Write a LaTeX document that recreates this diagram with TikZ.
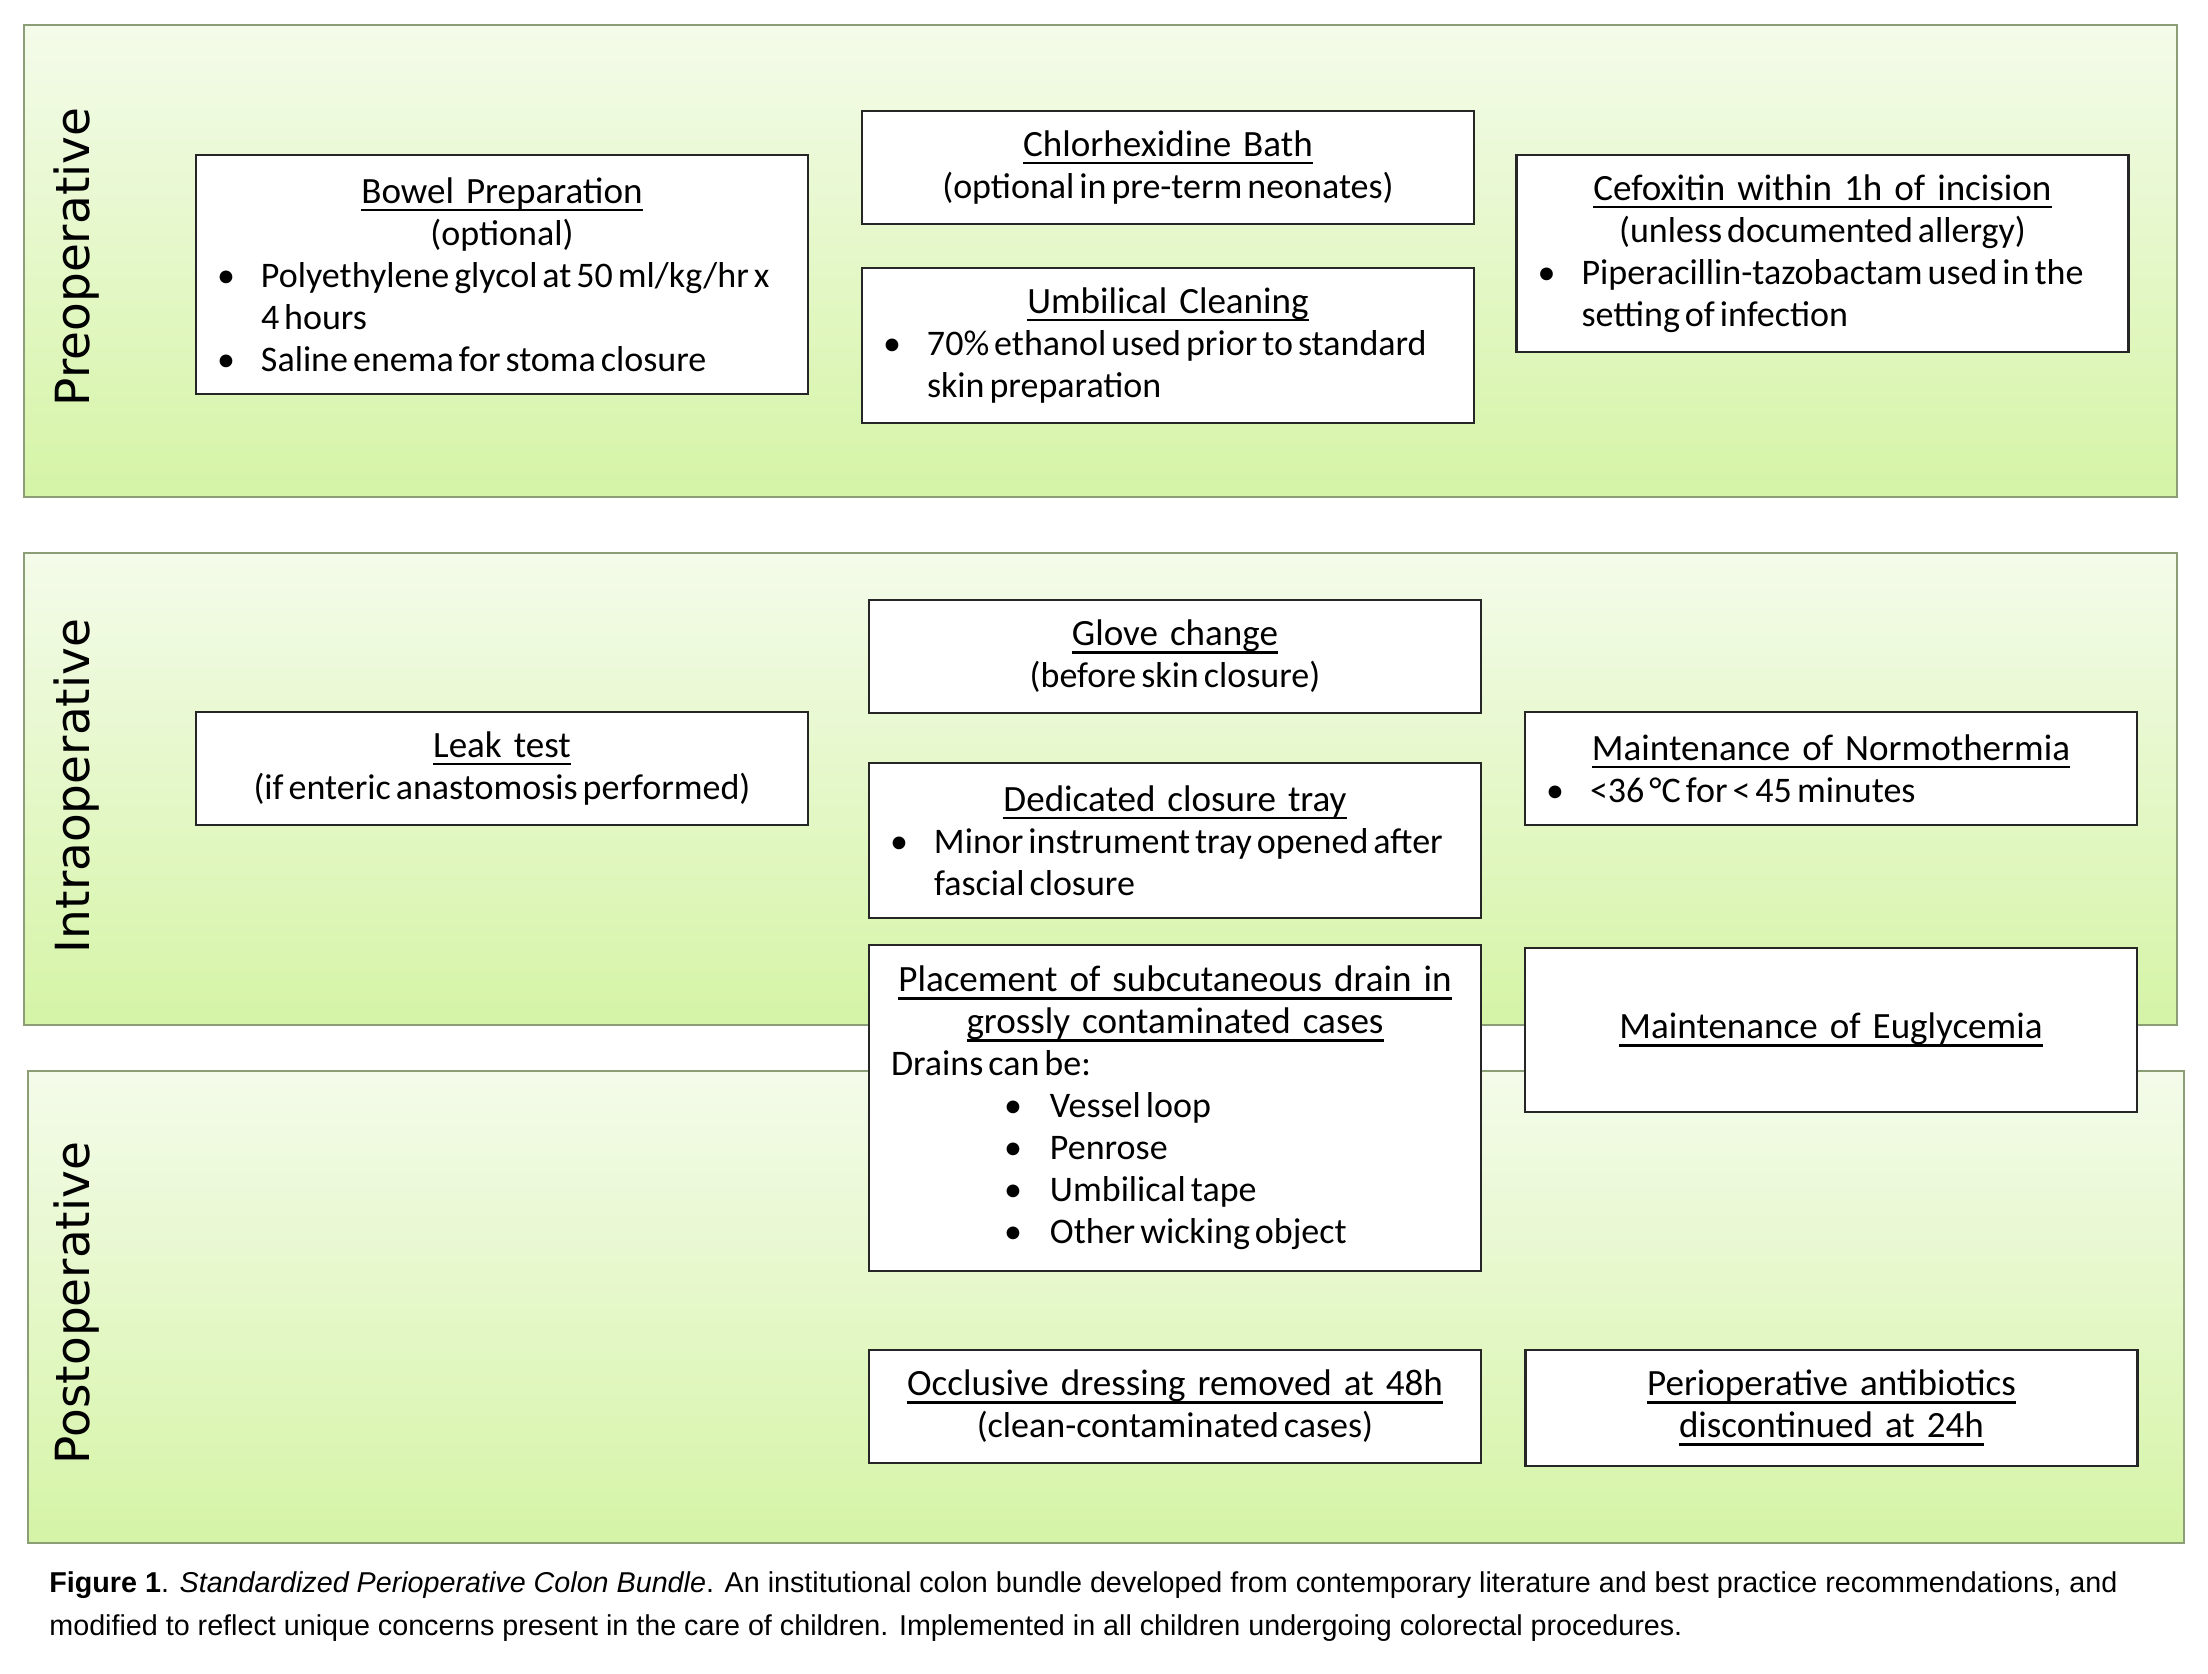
\documentclass[tikz,border=0pt]{standalone}
\usepackage{fontspec}
\setmainfont{Carlito}
\newfontfamily\headfont{Carlito}[Scale=1.03]
\newfontfamily\phasefont{DejaVu Sans}
\newfontfamily\captionfont{Liberation Sans}

\definecolor{paneltop}{RGB}{244,251,234}
\definecolor{panelbot}{RGB}{213,244,166}
\definecolor{panelline}{RGB}{140,158,118}

% underlined heading, rule just below the baseline
\newsavebox\headbox
\newcommand\hd[1]{\sbox\headbox{\headfont #1}\rlap{\rule[-4pt]{\wd\headbox}{1.3pt}}\usebox\headbox}
% narrow word spaces for the body lines of a card
\newcommand\tight[1]{{\spaceskip=2.5pt plus 0.6pt minus 0.3pt\relax\xspaceskip=2.9pt\relax #1}}
% a centred line across the card
\newcommand\cl[1]{\makebox[\linewidth][c]{#1}}
\newcommand\ct[1]{\makebox[\linewidth][c]{\tight{#1}}}
% bullet item, its continuation indent, and a nested bullet item
\newcommand\bl[1]{\hspace*{10.5pt}\makebox[22pt][l]{\textbullet}\tight{#1}}
\newcommand\cont[1]{\hspace*{32.5pt}\tight{#1}}
\newcommand\nbl[1]{\hspace*{67.5pt}\makebox[23pt][l]{\textbullet}\tight{#1}}

\tikzset{
  panel/.style={draw=panelline, line width=0.8pt, top color=paneltop, bottom color=panelbot},
  card/.style={draw=black!85, line width=1.4pt, fill=white, inner sep=0pt,
    text width=306pt, minimum width=306pt, align=left,
    font=\fontsize{18}{21}\selectfont, minimum height=#1},
  phase/.style={rotate=90, anchor=base, inner sep=0pt, font=\phasefont\fontsize{23.5}{28}\selectfont},
  capline/.style={anchor=base west, inner sep=0pt, font=\captionfont\fontsize{14.35}{17}\selectfont}
}

\begin{document}
\begin{tikzpicture}[x=0.5pt, y=-0.5pt]
\useasboundingbox (0,0) rectangle (2208,1674);
\fill[white] (0,0) rectangle (2208,1674);

% phase panels
\path[panel] (24,25) rectangle (2177,497);
\path[panel] (24,553) rectangle (2177,1025);
\path[panel] (28,1071) rectangle (2184,1543);

\node[phase] (prelbl) at (89,257) {Preoperative};
\node[phase] (intralbl) at (89,786) {Intraoperative};
\node[phase] (postlbl) at (90,1303) {Postoperative};

% preoperative
\node[card=119.5pt] (bowel) at (502,274.5) {%
  \cl{\hd{Bowel Preparation}}\\
  \ct{(optional)}\\
  \bl{Polyethylene glycol at 50 ml/kg/hr x}\\
  \cont{4 hours}\\
  \bl{Saline enema for stoma closure}};

\node[card=56.5pt] (chlor) at (1168,167.5) {%
  \cl{\hd{Chlorhexidine Bath}}\\
  \ct{(optional in pre-term neonates)}};

\node[card=77.5pt] (umbil) at (1168,345.5) {%
  \cl{\hd{Umbilical Cleaning}}\\
  \bl{70\% ethanol used prior to standard}\\
  \cont{skin preparation}};

\node[card=98.5pt] (cefox) at (1822.5,253.5) {%
  \cl{\hd{Cefoxitin within 1h of incision}}\\
  \ct{(unless documented allergy)}\\
  \bl{Piperacillin-tazobactam used in the}\\
  \cont{setting of infection}};

% intraoperative
\node[card=56.5pt] (leak) at (502,768.5) {%
  \cl{\hd{Leak test}}\\
  \ct{(if enteric anastomosis performed)}};

\node[card=56.5pt] (glove) at (1175,656.5) {%
  \cl{\hd{Glove change}}\\
  \ct{(before skin closure)}};

\node[card=77.5pt] (tray) at (1175,840.5) {%
  \cl{\hd{Dedicated closure tray}}\\
  \bl{Minor instrument tray opened after}\\
  \cont{fascial closure}};

\node[card=163pt] (drain) at (1175,1108) {%
  \cl{\hd{Placement of subcutaneous drain in}}\\
  \cl{\hd{grossly contaminated cases}}\\
  \hspace*{11pt}\tight{Drains can be:}\\
  \nbl{Vessel loop}\\
  \nbl{Penrose}\\
  \nbl{Umbilical tape}\\
  \nbl{Other wicking object}};

\node[card=56.5pt] (normo) at (1831,768.5) {%
  \cl{\hd{Maintenance of Normothermia}}\\
  \bl{\textless36 °C for \textless{} 45 minutes}};

\node[card=82pt] (eugly) at (1831,1030) {%
  \cl{\hd{Maintenance of Euglycemia}}};

% postoperative
\node[card=56.5pt] (dressing) at (1175,1406.5) {%
  \cl{\hd{Occlusive dressing removed at 48h}}\\
  \ct{(clean-contaminated cases)}};

\node[card=58pt] (abx) at (1831.5,1408) {%
  \cl{\hd{Perioperative antibiotics}}\\
  \cl{\hd{discontinued at 24h}}};

% caption
\node[capline] (cap1) at (49,1592) {\textbf{Figure 1}. \textit{Standardized Perioperative Colon Bundle}. An institutional colon bundle developed from contemporary literature and best practice recommendations, and};
\node[capline] (cap2) at (49,1635) {modified to reflect unique concerns present in the care of children. Implemented in all children undergoing colorectal procedures.};
\end{tikzpicture}
\end{document}
